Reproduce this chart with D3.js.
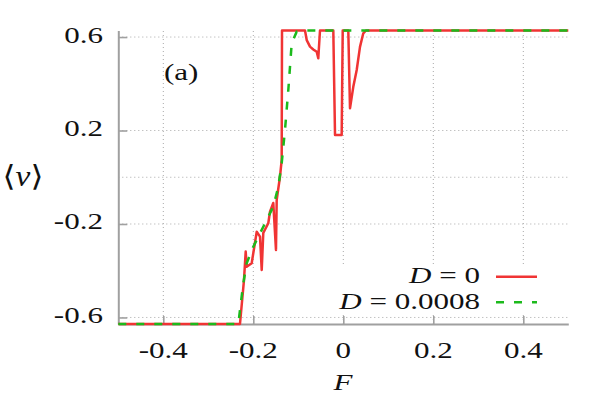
<!DOCTYPE html>
<html><head><meta charset="utf-8">
<script src="https://cdn.jsdelivr.net/npm/d3@7/dist/d3.min.js"></script>
<style>html,body{margin:0;padding:0;background:#fff}</style>
</head><body>
<svg id="c" width="606" height="404"></svg>
<script>
const xTicks = [-0.4, -0.2, 0, 0.2, 0.4];
const xTickLabels = ["-0.4", "-0.2", "0", "0.2", "0.4"];
const yTicks = [0.6, 0.2, -0.2, -0.6];
const yTickLabels = ["0.6", "0.2", "-0.2", "-0.6"];
const yGrid = [0.6, 0.2, 0, -0.2, -0.6];

// D = 0
const redF = [-0.5, -0.2296, -0.2207, -0.2169, -0.2147, -0.2036, -0.1924, -0.1851, -0.1813, -0.1778, -0.1667, -0.1629, -0.1556, -0.1496, -0.148, -0.1407, -0.1369, -0.1362, -0.0851, -0.0813, -0.074, -0.0667, -0.0591, -0.0556, -0.0518, -0.0222, -0.0184, -0.0036, -0.0013, 0.0111, 0.0149, 0.0222, 0.0298, 0.0371, 0.0444, 0.0504, 0.5];
const redV = [-0.628, -0.628, -0.44, -0.318, -0.383, -0.368, -0.233, -0.254, -0.397, -0.238, -0.197, -0.147, -0.110, -0.311, -0.097, 0.002, 0.074, 0.628, 0.628, 0.587, 0.559, 0.547, 0.537, 0.509, 0.628, 0.628, 0.181, 0.181, 0.628, 0.628, 0.295, 0.387, 0.459, 0.558, 0.616, 0.628, 0.628];
// D = 0.0008
const greenF = [-0.5, -0.2333, -0.2296, -0.2222, -0.2147, -0.2, -0.1851, -0.1702, -0.1556, -0.1444, -0.1369, -0.1296, -0.1222, -0.1147, -0.1036, -0.0889, 0.5];
const greenV = [-0.628, -0.628, -0.568, -0.454, -0.368, -0.297, -0.240, -0.183, -0.126, -0.040, 0.060, 0.202, 0.373, 0.573, 0.623, 0.628, 0.628];

const seriesNames = ["0", "0.0008"];

const svg = d3.select("#c");
const x = d3.scaleLinear().domain([-0.5, 0.5]).range([118.3, 568.3]);
const y = d3.scaleLinear().domain([-0.628, 0.628]).range([324, 30.5]);
const SX = 1.35;
const FONT = "'Liberation Serif','DejaVu Serif',serif";
const GRID = "#a8a8a8", AXIS = "#a0a0a0";

// grid
const g = svg.append("g");
g.selectAll(".vg").data(xTicks).join("line")
  .attr("x1", d => x(d)).attr("x2", d => x(d)).attr("y1", y.range()[0]).attr("y2", y.range()[1])
  .attr("stroke", GRID).attr("stroke-width", 1).attr("stroke-dasharray", "1,3");
g.selectAll(".hg").data(yGrid).join("line")
  .attr("x1", x.range()[0]).attr("x2", x.range()[1]).attr("y1", d => y(d)).attr("y2", d => y(d))
  .attr("stroke", GRID).attr("stroke-width", 1).attr("stroke-dasharray", "1,3");

// legend background
svg.append("rect").attr("x", 322).attr("y", 265).attr("width", 224).attr("height", 48).attr("fill", "#fff");

// axes
const ax = svg.append("g").attr("transform", `translate(0,${y.range()[0]})`)
  .call(d3.axisBottom(x).tickValues(xTicks).tickSizeInner(-8).tickSizeOuter(0).tickFormat(""));
const ay = svg.append("g").attr("transform", `translate(${x.range()[0]},0)`)
  .call(d3.axisLeft(y).tickValues(yTicks).tickSizeInner(-9).tickSizeOuter(0).tickFormat(""));
[ax, ay].forEach(a => {
  a.select(".domain").attr("stroke", AXIS).attr("stroke-width", 2);
  a.selectAll(".tick line").attr("stroke", AXIS).attr("stroke-width", 1.6);
});

function label(txt, px, py, anchor, size) {
  return svg.append("text")
    .attr("transform", `translate(${px},${py}) scale(${SX},1)`)
    .attr("text-anchor", anchor).attr("font-family", FONT)
    .attr("font-size", size || 23).attr("fill", "#111").text(txt);
}
xTicks.forEach((t, i) => label(xTickLabels[i], x(t), 358, "middle"));
yTicks.forEach((t, i) => label(yTickLabels[i], 103, y(t) + 5.5, "end"));

// lines
const line = d3.line().x(d => x(d[0])).y(d => y(d[1]));
svg.append("path").datum(redF.map((f, i) => [f, redV[i]])).attr("d", line)
  .attr("fill", "none").attr("stroke", "#f03434").attr("stroke-width", 2.5).attr("stroke-linejoin", "round");
svg.append("path").datum(greenF.map((f, i) => [f, greenV[i]])).attr("d", line)
  .attr("fill", "none").attr("stroke", "#1cba1c").attr("stroke-width", 2.5).attr("stroke-dasharray", "8,10");

// legend
function legendText(val, py) {
  const t = svg.append("text")
    .attr("transform", `translate(480,${py}) scale(${SX},1)`)
    .attr("text-anchor", "end").attr("font-family", FONT).attr("font-size", 23).attr("fill", "#111");
  t.append("tspan").attr("font-style", "italic").text("D");
  t.append("tspan").text(" = " + val);
}
legendText(seriesNames[0], 283);
legendText(seriesNames[1], 309);
svg.append("line").attr("x1", 496).attr("x2", 537).attr("y1", 276.7).attr("y2", 276.7)
  .attr("stroke", "#f03434").attr("stroke-width", 2.5);
svg.append("line").attr("x1", 496).attr("x2", 537).attr("y1", 302.3).attr("y2", 302.3)
  .attr("stroke", "#1cba1c").attr("stroke-width", 2.5).attr("stroke-dasharray", "8,10");

// annotations
label("(a)", 164, 80, "start");
const yl = svg.append("text").attr("transform", `translate(23,186) scale(1.15,1)`)
  .attr("text-anchor", "middle").attr("font-family", FONT).attr("font-size", 29).attr("fill", "#111");
yl.append("tspan").text("\u27E8");
yl.append("tspan").attr("font-style", "italic").text("v");
yl.append("tspan").text("\u27E9");
const xl = label("", 343, 390, "middle");
xl.append("tspan").attr("font-style", "italic").text("F");
</script>
</body></html>
